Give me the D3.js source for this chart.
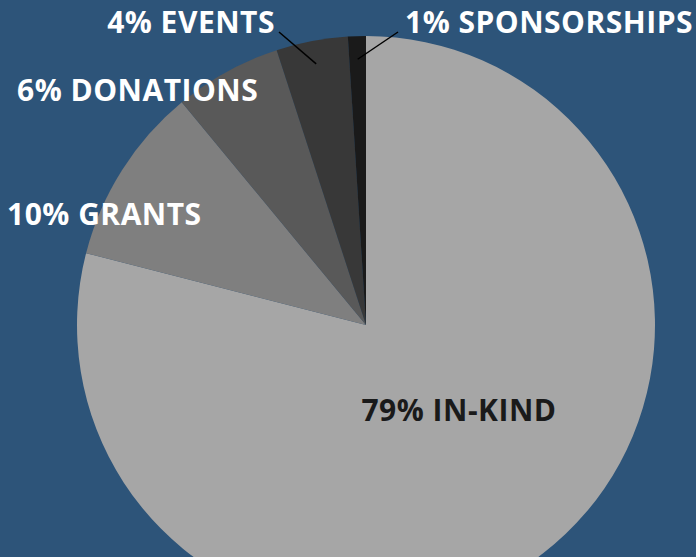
<!DOCTYPE html>
<html>
<head>
<meta charset="utf-8">
<script src="https://cdn.jsdelivr.net/npm/d3@7"></script>
<style>
  html, body { margin: 0; padding: 0; background: #2d5479; }
  svg { display: block; }
  text { font-family: "Open Sans", sans-serif; font-weight: bold; letter-spacing: 0.5px; }
</style>
</head>
<body>
<div id="chart"></div>
<script>
// Datos del gráfico
var categories = ["IN-KIND", "GRANTS", "DONATIONS", "EVENTS", "SPONSORSHIPS"];
var values = [79, 10, 6, 4, 1];
var colors = ["#a6a6a6", "#7f7f7f", "#595959", "#383838", "#1a1a1a"];

var width = 696, height = 557;
var cx = 366, cy = 325, radius = 289;

var svg = d3.select("#chart").append("svg")
    .attr("width", width)
    .attr("height", height);

var g = svg.append("g").attr("transform", "translate(" + cx + "," + cy + ")");

var pie = d3.pie().sort(null).value(d => d.value);
var arc = d3.arc().innerRadius(0).outerRadius(radius);

var data = categories.map((c, i) => ({ name: c, value: values[i], color: colors[i] }));
var arcs = pie(data);

// Dibujar las porciones
g.selectAll("path")
    .data(arcs)
    .enter().append("path")
    .attr("d", arc)
    .attr("fill", d => d.data.color);

// Posición de las etiquetas (relativa al centro)
var labelLayout = {
    "IN-KIND":      { x: 93,  y: 96,   anchor: "middle", fill: "#1a1a1a" },
    "GRANTS":       { x: -359, y: -100, anchor: "start", fill: "#ffffff" },
    "DONATIONS":    { x: -349, y: -224, anchor: "start", fill: "#ffffff" },
    "EVENTS":       { x: -91, y: -292,  anchor: "end",   fill: "#ffffff", line: [-87, -293] },
    "SPONSORSHIPS": { x: 39,  y: -292,  anchor: "start", fill: "#ffffff", line: [32, -293] }
};

var lineArc = d3.arc().innerRadius(radius * 0.92).outerRadius(radius * 0.92);

// Líneas guía
g.selectAll("line.leader")
    .data(arcs.filter(d => labelLayout[d.data.name].line))
    .enter().append("line")
    .attr("class", "leader")
    .attr("x1", d => lineArc.centroid(d)[0])
    .attr("y1", d => lineArc.centroid(d)[1])
    .attr("x2", d => labelLayout[d.data.name].line[0])
    .attr("y2", d => labelLayout[d.data.name].line[1])
    .attr("stroke", "#000")
    .attr("stroke-width", 1.5);

// Etiquetas
g.selectAll("text.label")
    .data(arcs)
    .enter().append("text")
    .attr("class", "label")
    .attr("x", d => labelLayout[d.data.name].x)
    .attr("y", d => labelLayout[d.data.name].y)
    .attr("text-anchor", d => labelLayout[d.data.name].anchor)
    .attr("fill", d => labelLayout[d.data.name].fill)
    .attr("font-size", "30px")
    .text(d => d.data.value + "% " + d.data.name);
</script>
</body>
</html>
